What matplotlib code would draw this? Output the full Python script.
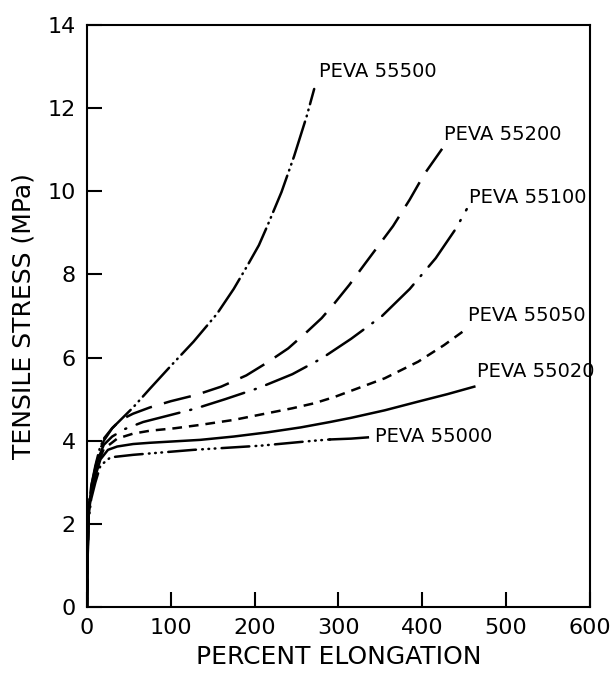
import matplotlib
matplotlib.use("Agg")
import matplotlib.pyplot as plt

plt.rcParams['font.family'] = ['DejaVu Sans']
plt.rcParams['lines.scale_dashes'] = False

# curves: percent elongation vs tensile stress (MPa)
x_55500 = [0, 1, 2, 5, 10, 15, 20, 30, 40, 55, 75, 100, 127, 155, 175, 191, 205, 215, 232, 247, 262, 271]
y_55500 = [0, 1.6, 2.4, 2.9, 3.4, 3.8, 4.05, 4.3, 4.5, 4.8, 5.25, 5.8, 6.38, 7.05, 7.65, 8.2, 8.7, 9.16, 9.98, 10.84, 11.8, 12.46]

x_55200 = [0, 1, 2, 5, 10, 15, 20, 30, 40, 55, 75, 100, 130, 160, 190, 215, 240, 263, 280, 295, 313, 331, 348, 365, 385, 402, 425]
y_55200 = [0, 1.6, 2.4, 2.9, 3.35, 3.75, 4.0, 4.3, 4.5, 4.65, 4.8, 4.95, 5.1, 5.3, 5.57, 5.88, 6.22, 6.63, 6.95, 7.3, 7.75, 8.24, 8.7, 9.16, 9.8, 10.4, 11.06]

x_55100 = [0, 1, 2, 5, 10, 15, 20, 30, 45, 67, 100, 129, 165, 205, 245, 280, 315, 352, 385, 416, 440, 453]
y_55100 = [0, 1.5, 2.3, 2.85, 3.3, 3.65, 3.9, 4.1, 4.28, 4.45, 4.62, 4.77, 5.0, 5.27, 5.6, 5.98, 6.45, 7.0, 7.65, 8.39, 9.1, 9.57]

x_55050 = [0, 1, 2, 5, 10, 15, 20, 36, 55, 75, 105, 135, 175, 215, 245, 271, 295, 315, 355, 395, 426, 450]
y_55050 = [0, 1.5, 2.25, 2.8, 3.2, 3.55, 3.8, 4.05, 4.17, 4.24, 4.3, 4.38, 4.5, 4.66, 4.78, 4.9, 5.05, 5.2, 5.5, 5.9, 6.3, 6.65]

x_55020 = [0, 1, 2, 5, 10, 16, 25, 36, 55, 75, 135, 175, 215, 255, 290, 315, 355, 395, 430, 462]
y_55020 = [0, 1.45, 2.2, 2.75, 3.15, 3.55, 3.78, 3.86, 3.92, 3.95, 4.02, 4.1, 4.2, 4.32, 4.45, 4.55, 4.73, 4.94, 5.12, 5.3]

x_55000 = [0, 1, 2, 5, 10, 16, 28, 55, 127, 207, 271, 290]
y_55000 = [0, 1.4, 2.1, 2.6, 3.0, 3.4, 3.6, 3.66, 3.78, 3.88, 4.0, 4.03]
x_55000_lead = [290, 315, 335]
y_55000_lead = [4.03, 4.05, 4.08]

labels = ['PEVA 55500', 'PEVA 55200', 'PEVA 55100', 'PEVA 55050', 'PEVA 55020', 'PEVA 55000']
label_x = [277, 426, 456, 455, 465, 343]
label_y = [12.87, 11.37, 9.85, 7.0, 5.66, 4.1]

fig = plt.figure(figsize=(6.11, 6.74), dpi=100)
ax = fig.add_axes([0.1424, 0.0994, 0.8232, 0.8636])

lw = 1.8
ax.plot(x_55500, y_55500, color='black', lw=lw, dash_capstyle='round',
        ls=(0, (28, 4, 0.5, 4, 0.5, 4)))
ax.plot(x_55200, y_55200, color='black', lw=lw, dash_capstyle='butt',
        ls=(0, (20, 9)))
ax.plot(x_55100, y_55100, color='black', lw=lw, dash_capstyle='round',
        ls=(0, (32, 8, 0.8, 8)))
ax.plot(x_55050, y_55050, color='black', lw=lw, dash_capstyle='butt',
        ls=(0, (7, 5)))
ax.plot(x_55020, y_55020, color='black', lw=lw, ls='-')
ax.plot(x_55000, y_55000, color='black', lw=lw, dash_capstyle='round',
        ls=(0, (20, 4.5, 0.5, 4, 0.5, 4, 0.5, 4.5)))
ax.plot(x_55000_lead, y_55000_lead, color='black', lw=lw, ls='-')

for t, lx, ly in zip(labels, label_x, label_y):
    ax.text(lx, ly, t, fontsize=14, ha='left', va='center', color='black')

ax.set_xlim(0, 600)
ax.set_ylim(0, 14)
ax.set_xticks([0, 100, 200, 300, 400, 500, 600])
ax.set_yticks([0, 2, 4, 6, 8, 10, 12, 14])
ax.tick_params(direction='in', length=11, width=1.5, labelsize=16, pad=8,
               top=False, right=False)
for s in ax.spines.values():
    s.set_linewidth(1.5)

ax.set_xlabel('PERCENT ELONGATION', fontsize=18, labelpad=5)
ax.set_ylabel('TENSILE STRESS (MPa)', fontsize=18, labelpad=9)

fig.savefig('out.png', dpi=100)
